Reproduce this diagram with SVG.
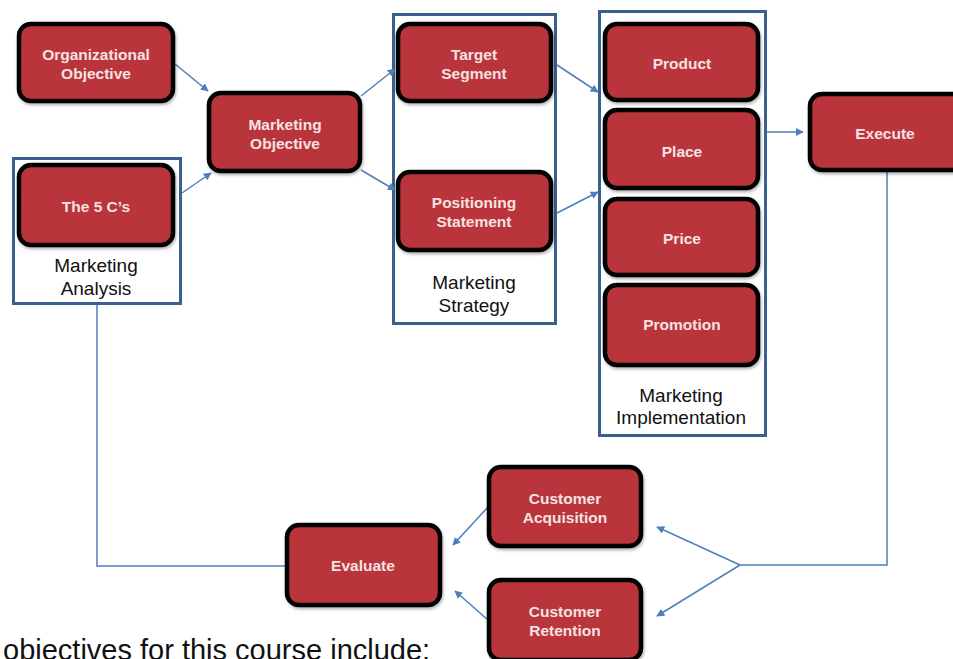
<svg xmlns="http://www.w3.org/2000/svg" width="953" height="659" viewBox="0 0 953 659">
<style>
.box{fill:#b9343b;stroke:#000;stroke-width:4.5;filter:url(#sh)}
.bt{font-family:"Liberation Sans",Arial,sans-serif;font-weight:bold;font-size:15.5px;fill:#f6e2e2;text-anchor:middle}
.grp{fill:none;stroke:#3b5f90;stroke-width:3}
.lbl{font-family:"Liberation Sans",Arial,sans-serif;font-size:19px;fill:#111;text-anchor:middle}
.ln{fill:none;stroke:#4f7fbb;stroke-width:1.5}
.ar{marker-end:url(#ah)}
</style>
<defs>
<marker id="ah" viewBox="0 0 10 10" refX="9" refY="5" markerWidth="8" markerHeight="8" markerUnits="userSpaceOnUse" orient="auto">
<path d="M0,0 L10,5 L0,10 z" fill="#4f7fbb"/>
</marker>
<filter id="sh" x="-10%" y="-10%" width="125%" height="130%">
<feDropShadow dx="1" dy="2" stdDeviation="1.5" flood-color="#000" flood-opacity="0.3"/>
</filter>
</defs>
<rect width="953" height="659" fill="#fff"/>

<g id="marketing-analysis">
<rect class="grp" x="13.5" y="158.5" width="167" height="145"/>
<text class="lbl" x="96" y="272">Marketing</text>
<text class="lbl" x="96" y="295">Analysis</text>
</g>
<g id="marketing-strategy">
<rect class="grp" x="393.5" y="14.5" width="162" height="309"/>
<text class="lbl" x="474" y="289">Marketing</text>
<text class="lbl" x="474" y="312">Strategy</text>
</g>
<g id="marketing-implementation">
<rect class="grp" x="599.5" y="11.5" width="166" height="424"/>
<text class="lbl" x="681" y="402">Marketing</text>
<text class="lbl" x="681" y="424">Implementation</text>
</g>

<g id="connectors">
<line class="ln ar" x1="175" y1="64" x2="208" y2="91"/>
<line class="ln ar" x1="182" y1="193" x2="211" y2="173"/>
<line class="ln ar" x1="361" y1="96" x2="395" y2="69"/>
<line class="ln ar" x1="361" y1="170" x2="395" y2="190"/>
<line class="ln ar" x1="557" y1="65" x2="598" y2="92"/>
<line class="ln ar" x1="557" y1="213" x2="598" y2="192"/>
<line class="ln ar" x1="767" y1="132" x2="803" y2="132"/>
<polyline class="ln" points="887,172 887,565 740,565"/>
<line class="ln ar" x1="740" y1="565" x2="657" y2="527"/>
<line class="ln ar" x1="740" y1="565" x2="657" y2="616"/>
<line class="ln ar" x1="488" y1="507" x2="453" y2="545"/>
<line class="ln ar" x1="488" y1="620" x2="455" y2="591"/>
<polyline class="ln" points="97,305 97,566 288,566"/>
</g>

<g id="organizational-objective">
<rect class="box" x="19" y="24" width="154" height="77" rx="12"/>
<text class="bt" x="96" y="60">Organizational</text>
<text class="bt" x="96" y="79">Objective</text>
</g>
<g id="the-5-cs">
<rect class="box" x="19" y="165" width="154" height="80" rx="12"/>
<text class="bt" x="96" y="212">The 5 C’s</text>
</g>
<g id="marketing-objective">
<rect class="box" x="209" y="93" width="151" height="78" rx="12"/>
<text class="bt" x="285" y="130">Marketing</text>
<text class="bt" x="285" y="149">Objective</text>
</g>
<g id="target-segment">
<rect class="box" x="398" y="24" width="153" height="77" rx="12"/>
<text class="bt" x="474" y="60">Target</text>
<text class="bt" x="474" y="79">Segment</text>
</g>
<g id="positioning-statement">
<rect class="box" x="398" y="172" width="153" height="78" rx="12"/>
<text class="bt" x="474" y="208">Positioning</text>
<text class="bt" x="474" y="227">Statement</text>
</g>
<g id="product">
<rect class="box" x="605" y="24" width="153" height="76" rx="12"/>
<text class="bt" x="682" y="69">Product</text>
</g>
<g id="place">
<rect class="box" x="605" y="110" width="153" height="78" rx="12"/>
<text class="bt" x="682" y="157">Place</text>
</g>
<g id="price">
<rect class="box" x="605" y="199" width="153" height="76" rx="12"/>
<text class="bt" x="682" y="244">Price</text>
</g>
<g id="promotion">
<rect class="box" x="605" y="285" width="153" height="80" rx="12"/>
<text class="bt" x="682" y="330">Promotion</text>
</g>
<g id="execute">
<rect class="box" x="810" y="94" width="160" height="76" rx="12"/>
<text class="bt" x="885" y="139">Execute</text>
</g>
<g id="customer-acquisition">
<rect class="box" x="489" y="467" width="152" height="79" rx="12"/>
<text class="bt" x="565" y="504">Customer</text>
<text class="bt" x="565" y="523">Acquisition</text>
</g>
<g id="customer-retention">
<rect class="box" x="489" y="580" width="152" height="80" rx="12"/>
<text class="bt" x="565" y="617">Customer</text>
<text class="bt" x="565" y="636">Retention</text>
</g>
<g id="evaluate">
<rect class="box" x="287" y="525" width="153" height="80" rx="12"/>
<text class="bt" x="363" y="571">Evaluate</text>
</g>

<text x="3" y="660" font-family="'Liberation Sans',Arial,sans-serif" font-size="29" fill="#111">objectives for this course include:</text>
</svg>
